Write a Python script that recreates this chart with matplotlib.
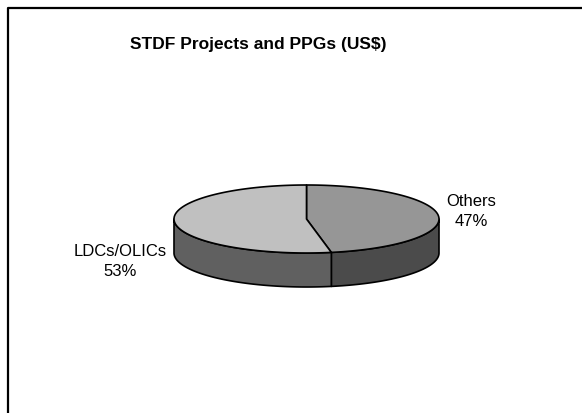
import numpy as np
import matplotlib
matplotlib.use("Agg")
import matplotlib.pyplot as plt
from matplotlib.patches import Polygon

plt.rcParams['font.family'] = ['Liberation Sans', 'DejaVu Sans']

# Data
categories = ["Others", "LDCs/OLICs"]
shares = [47, 53]
title = "STDF Projects and PPGs (US$)"

# Style
top_colors = ["#969696", "#C0C0C0"]
side_colors = ["#4B4B4B", "#606060"]

fig = plt.figure(figsize=(5.82, 4.14), dpi=100)
ax = fig.add_axes([0, 0, 1, 1])
ax.set_xlim(0, 582)
ax.set_ylim(414, 0)
ax.axis('off')

# frame (cropped box)
ax.plot([7.5, 7.5, 600], [420, 8.5, 8.5], color='black', lw=1.6, solid_capstyle='butt', clip_on=False)

cx, cy, a, b, depth = 306.5, 220.0, 132.5, 34.0, 34.0

def pt(t):
    r = np.radians(t)
    return cx + a * np.cos(r), cy - b * np.sin(r)

total = float(sum(shares))
start = 90.0
ranges = []
for s in shares:
    span = 360.0 * s / total
    ranges.append((start - span, start))  # clockwise
    start -= span

# side faces (front half: t in [-180, 0])
for (t0, t1), col in zip(ranges, side_colors):
    for shift in (0, -360, 360):
        l, h = t0 + shift, t1 + shift
        vl, vh = max(l, -180), min(h, 0)
        if vh > vl:
            ts = np.linspace(vl, vh, 100)
            xs, ys = pt(ts)
            px = np.concatenate([xs, xs[::-1]])
            py = np.concatenate([ys, ys[::-1] + depth])
            ax.add_patch(Polygon(np.column_stack([px, py]), closed=True,
                                 facecolor=col, edgecolor='black', lw=1.2, joinstyle='round'))

# top faces
for (t0, t1), col in zip(ranges, top_colors):
    ts = np.linspace(t0, t1, 200)
    xs, ys = pt(ts)
    px = np.concatenate([[cx], xs])
    py = np.concatenate([[cy], ys])
    ax.add_patch(Polygon(np.column_stack([px, py]), closed=True,
                         facecolor=col, edgecolor='black', lw=1.2, joinstyle='round'))

# title
ax.text(258, 45, title, ha='center', va='center', fontsize=12.5, fontweight='bold')

# labels
label_pos = [(471, 211.5), (120, 261.5)]
for cat, s, (lx, ly) in zip(categories, shares, label_pos):
    ax.text(lx, ly, f"{cat}\n{s}%", ha='center', va='center', fontsize=12, linespacing=1.35)

fig.savefig("out.png", dpi=100)
